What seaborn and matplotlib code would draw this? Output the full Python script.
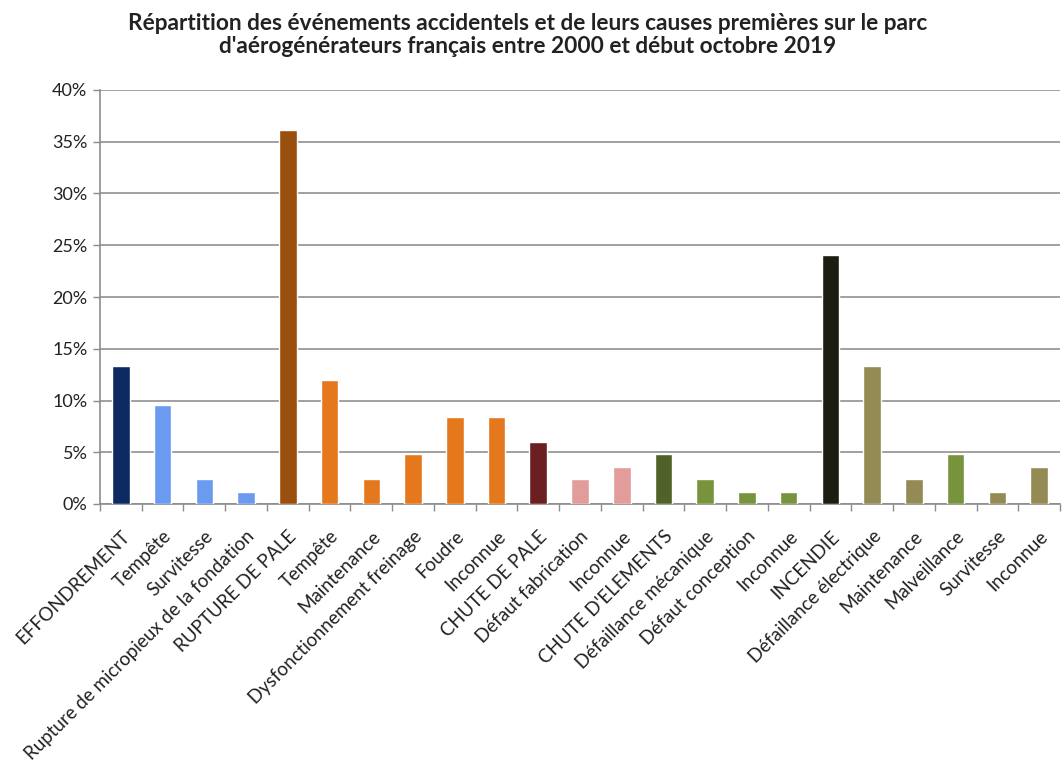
import matplotlib
matplotlib.use("Agg")
import matplotlib.pyplot as plt
import seaborn as sns
import pandas as pd
from matplotlib.ticker import FixedLocator, PercentFormatter

# Causes and sub-causes, in display order
labels = [
    "EFFONDREMENT", "Tempête", "Survitesse", "Rupture de micropieux de la fondation",
    "RUPTURE DE PALE", "Tempête", "Maintenance", "Dysfonctionnement freinage",
    "Foudre", "Inconnue",
    "CHUTE DE PALE", "Défaut fabrication", "Inconnue",
    "CHUTE D'ELEMENTS", "Défaillance mécanique", "Défaut conception", "Inconnue",
    "INCENDIE", "Défaillance électrique", "Maintenance", "Malveillance",
    "Survitesse", "Inconnue",
]

# Share of events (%)
shares = [
    13.3, 9.6, 2.4, 1.2,
    36.1, 12.0, 2.4, 4.8, 8.4, 8.4,
    6.0, 2.4, 3.6,
    4.8, 2.4, 1.2, 1.2,
    24.1, 13.3, 2.4, 4.8, 1.2, 3.6,
]

colors = [
    "#0d2a63", "#6a9bf0", "#6a9bf0", "#6a9bf0",
    "#9b4f0f", "#e5781d", "#e5781d", "#e5781d", "#e5781d", "#e5781d",
    "#6b1f21", "#e29d9b", "#e29d9b",
    "#506229", "#77933c", "#77933c", "#77933c",
    "#1d1c10", "#948a54", "#948a54", "#77933c", "#948a54", "#948a54",
]

df = pd.DataFrame({"pos": range(len(labels)), "share": shares})

sns.set_theme(style="white")
plt.rcParams["font.family"] = ["Lato", "DejaVu Sans"]

fig = plt.figure(figsize=(10.62, 7.67), dpi=100)
ax = fig.add_axes([100 / 1062, 1 - 504 / 767, 960 / 1062, (504 - 90) / 767])

sns.barplot(data=df, x="pos", y="share", hue="pos", palette=colors,
            legend=False, width=0.42, saturation=1, ax=ax, zorder=3)

ax.set_ylim(0, 40)
ax.set_xlim(-0.5, len(labels) - 0.5)
ax.set_yticks(range(0, 41, 5))
ax.yaxis.set_major_formatter(PercentFormatter(decimals=0))
ax.grid(axis="y", color="#a0a0a0", linewidth=1.4, zorder=0)
ax.set_axisbelow(True)

ax.set_xticks(range(len(labels)))
ax.set_xticklabels(labels, rotation=45, ha="right", rotation_mode="anchor",
                   fontsize=13.5, color="#222222")
ax.tick_params(axis="x", which="major", length=0, pad=17)
ax.xaxis.set_minor_locator(FixedLocator([i - 0.5 for i in range(len(labels) + 1)]))
ax.tick_params(axis="x", which="minor", length=5, width=1, color="#8c8c8c",
               direction="out", bottom=True)
ax.tick_params(axis="y", length=5, width=1, color="#8c8c8c", direction="out",
               left=True, labelsize=13, labelcolor="#222222", pad=4)

for side in ("top", "right"):
    ax.spines[side].set_visible(False)
for side in ("left", "bottom"):
    ax.spines[side].set_color("#8c8c8c")
    ax.spines[side].set_linewidth(1.2)

ax.set_xlabel("")
ax.set_ylabel("")

fig.text(0.497, 1 - 35 / 767,
         "Répartition des événements accidentels et de leurs causes premières sur le parc\n"
         "d'aérogénérateurs français entre 2000 et début octobre 2019",
         ha="center", va="center", fontsize=16.3, fontweight="bold",
         color="#222222", linespacing=1.12)

fig.savefig("out.png", dpi=100, facecolor="white")
